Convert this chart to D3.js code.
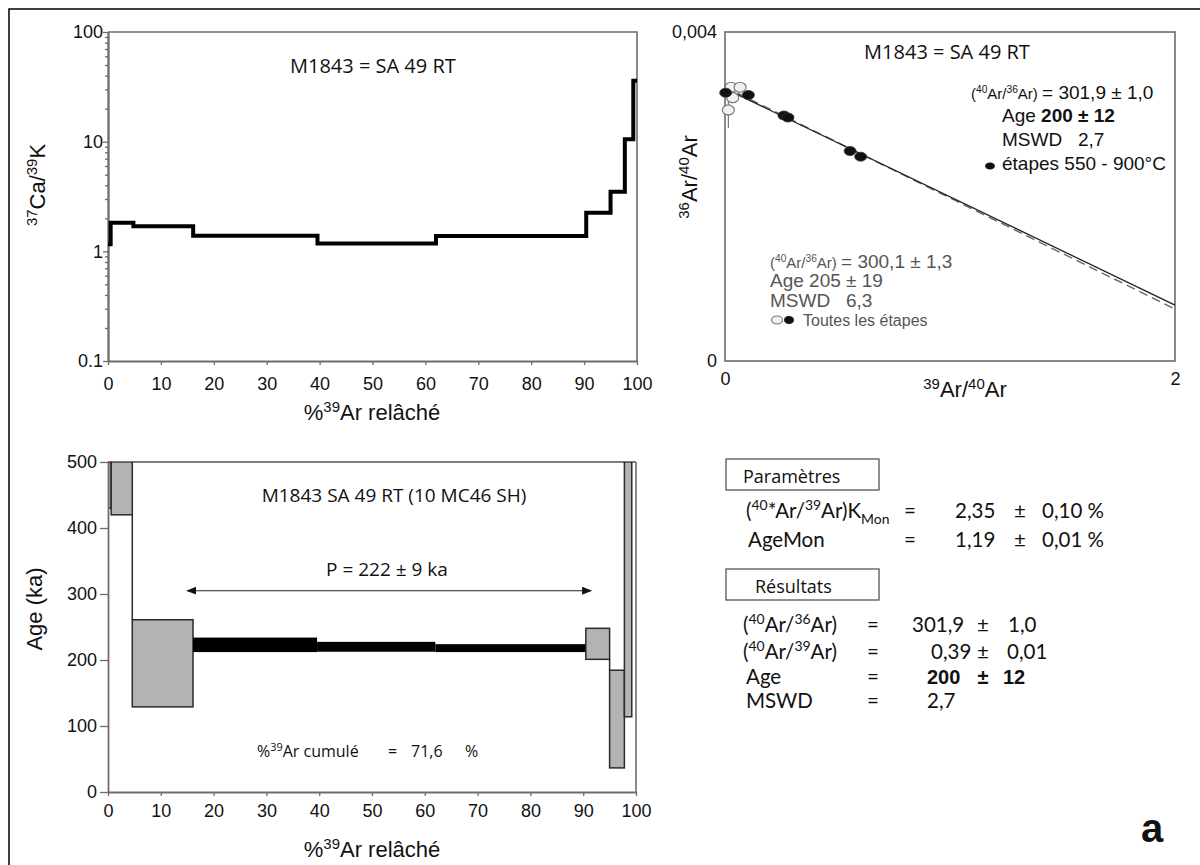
<!DOCTYPE html>
<html>
<head>
<meta charset="utf-8">
<script src="https://cdn.jsdelivr.net/npm/d3@7"></script>
<style>
  body { margin: 0; background: #fff; }
  svg { display: block; }
  text { white-space: pre; }
</style>
</head>
<body>
<div id="fig"></div>
<script>
// --- Ca/K spectrum (step boundaries in %39Ar, value of each step) ---
const caPct = [0, 0.5, 4.8, 16.1, 39.6, 62, 90.4, 95, 97.7, 99.3, 100];
const caVal = [1.16, 1.82, 1.69, 1.39, 1.18, 1.38, 2.25, 3.5, 10.5, 36];
const caTicks = [0.1, 1, 10, 100];
const caTickLabels = ['0.1', '1', '10', '100'];

// --- age spectrum (ka) ---
const agePct = [0, 0.6, 4.6, 16.1, 39.6, 62, 90.5, 95, 97.8, 99.2, 100];
const ageVal = [640, 640, 195, 223, 220, 218, 224.5, 110.5, 400, 800];
const ageErr = [210, 220, 66, 11, 7.5, 6, 23.5, 74, 286, 200];
const plateauSteps = [3, 4, 5];
const plateauSpan = [15, 91.5];
const plateauArrowAge = 305;
const pctTicks = d3.range(0, 101, 10);
const ageTicks = [0, 100, 200, 300, 400, 500];

// --- isochron 36Ar/40Ar vs 39Ar/40Ar ---
const allX = [0.027, 0.067, 0.034, 0.015];
const allY = [0.003328, 0.003328, 0.003201, 0.003052];
const allErrY = [0, 0, 0, 0.00022];
const selX = [0.003, 0.104, 0.262, 0.28, 0.556, 0.603];
const selY = [0.003262, 0.003234, 0.002985, 0.00296, 0.002553, 0.002484];
const fitSel = [1 / 301.9, 0.00068];   // y at x=0 and x=2
const fitAll = [1 / 300.1, 0.000632];

const ARIAL = "'Liberation Sans', Arial, sans-serif";
const MYR = "'Open Sans', 'Noto Sans', sans-serif";
const LATO = "Lato, 'Open Sans', sans-serif";
const GRAY = '#6c6c6c';

const svg = d3.select('#fig').append('svg')
  .attr('width', 1200).attr('height', 865);

svg.append('rect').attr('x', 9).attr('y', 9).attr('width', 1300).attr('height', 1000)
  .attr('fill', 'none').attr('stroke', '#000').attr('stroke-width', 1.5);

// text with super/subscripts
function rich(parent, x, y, parts, o) {
  o = o || {};
  const fs = o.size || 18;
  const t = parent.append('text').attr('x', x).attr('y', y)
    .attr('font-family', o.font || ARIAL).attr('font-size', fs)
    .attr('fill', o.fill || '#111').attr('text-anchor', o.anchor || 'start');
  if (o.rotate) t.attr('transform', `rotate(-90 ${x} ${y})`);
  if (o.weight) t.attr('font-weight', o.weight);
  let cur = 0;
  parts.forEach(p => {
    if (typeof p === 'string') p = { t: p };
    const off = p.sup ? -0.38 * fs : p.sub ? 0.3 * fs : 0;
    const s = t.append('tspan').attr('dy', off - cur).text(p.t);
    cur = off;
    if (p.sup || p.sub) s.attr('font-size', fs * 0.68);
    if (p.size) s.attr('font-size', p.size);
    if (p.b) s.attr('font-weight', 'bold');
  });
  return t;
}

function styleAxis(g, size) {
  g.select('.domain').attr('stroke', GRAY).attr('stroke-width', 1.8);
  g.selectAll('.tick line').attr('stroke', GRAY).attr('stroke-width', 1.3);
  g.selectAll('text').attr('font-family', ARIAL).attr('font-size', size).attr('fill', '#111');
}

// ================= Ca/K =================
const xA = d3.scaleLinear([0, 100], [108, 637]);
const yA = d3.scaleLog([0.1, 100], [361, 32]);
const gA = svg.append('g');

gA.append('path')
  .attr('d', `M${xA(0)},${yA(100)}H${xA(100)}V${yA(0.1)}`)
  .attr('fill', 'none').attr('stroke', GRAY).attr('stroke-width', 1.6);

const minorA = [];
[0.1, 1, 10].forEach(dec => d3.range(2, 10).forEach(m => minorA.push(dec * m)));
gA.append('g').attr('transform', `translate(${xA(0)},0)`)
  .call(d3.axisLeft(yA).tickValues(minorA).tickSize(3).tickSizeOuter(0).tickFormat(''))
  .call(g => styleAxis(g, 17));
gA.append('g').attr('transform', `translate(${xA(0)},0)`)
  .call(d3.axisLeft(yA).tickValues(caTicks).tickFormat((d, i) => caTickLabels[i])
    .tickSize(5).tickSizeOuter(0).tickPadding(0))
  .call(g => styleAxis(g, 18));
gA.append('g').attr('transform', `translate(0,${yA(0.1)})`)
  .call(d3.axisBottom(xA).tickValues(pctTicks).tickSize(4).tickSizeOuter(0).tickPadding(12))
  .call(g => styleAxis(g, 18));

const caPts = caPct.map((p, i) => [p, caVal[Math.min(i, caVal.length - 1)]]);
gA.append('path').datum(caPts)
  .attr('d', d3.line().x(d => xA(d[0])).y(d => yA(d[1])).curve(d3.curveStepAfter))
  .attr('fill', 'none').attr('stroke', '#000').attr('stroke-width', 4)
  .attr('stroke-linejoin', 'miter');

rich(gA, 290, 73, ['M1843 = SA 49 RT'], { font: MYR, size: 20 });
rich(gA, 45, 185, [{ t: '37', sup: true }, 'Ca/', { t: '39', sup: true }, 'K'],
  { size: 22, anchor: 'middle', rotate: true });
rich(gA, 372, 420, ['%', { t: '39', sup: true }, 'Ar relâché'], { size: 22, anchor: 'middle' });

// ================= isochron =================
const xB = d3.scaleLinear([0, 2], [725, 1175]);
const yB = d3.scaleLinear([0, 0.004], [361, 32]);
const gB = svg.append('g');

gB.append('rect').attr('x', xB(0)).attr('y', yB(0.004))
  .attr('width', xB(2) - xB(0)).attr('height', yB(0) - yB(0.004))
  .attr('fill', 'none').attr('stroke', GRAY).attr('stroke-width', 1.6);

gB.append('g').attr('transform', `translate(${xB(0)},0)`)
  .call(d3.axisLeft(yB).tickValues([0, 0.004]).tickFormat(d => d === 0 ? '0' : '0,004')
    .tickSize(0).tickPadding(8))
  .call(g => { styleAxis(g, 18); g.select('.domain').remove(); });
gB.append('g').attr('transform', `translate(0,${yB(0)})`)
  .call(d3.axisBottom(xB).tickValues([0, 2]).tickFormat(d3.format('d'))
    .tickSize(0).tickPadding(11))
  .call(g => { styleAxis(g, 18); g.select('.domain').remove(); });

const fitLine = d3.line().x(d => xB(d[0])).y(d => yB(d[1]));
gB.append('path').datum([[0, fitAll[0]], [2, fitAll[1]]]).attr('d', fitLine)
  .attr('stroke', '#666').attr('stroke-width', 1.4).attr('stroke-dasharray', '9,5').attr('fill', 'none');
gB.append('path').datum([[0, fitSel[0]], [2, fitSel[1]]]).attr('d', fitLine)
  .attr('stroke', '#222').attr('stroke-width', 1.3).attr('fill', 'none');

allX.forEach((x, i) => {
  if (allErrY[i] > 0) {
    gB.append('line').attr('x1', xB(x)).attr('x2', xB(x))
      .attr('y1', yB(allY[i] - allErrY[i])).attr('y2', yB(allY[i] + allErrY[i]))
      .attr('stroke', '#777').attr('stroke-width', 1.2);
  }
});
gB.selectAll('ellipse.all').data(allX).join('ellipse').attr('class', 'all')
  .attr('cx', d => xB(d)).attr('cy', (d, i) => yB(allY[i]))
  .attr('rx', 6).attr('ry', 5)
  .attr('fill', '#f2f2f2').attr('stroke', '#777').attr('stroke-width', 1.2);
gB.selectAll('ellipse.sel').data(selX).join('ellipse').attr('class', 'sel')
  .attr('cx', d => xB(d)).attr('cy', (d, i) => yB(selY[i]))
  .attr('rx', 6).attr('ry', 4.5)
  .attr('fill', '#111').attr('stroke', '#333').attr('stroke-width', 0.8);

rich(gB, 947, 59, ['M1843 = SA 49 RT'], { font: MYR, size: 20, anchor: 'middle' });
rich(gB, 971, 99, ['(', { t: '40', sup: true }, 'Ar/', { t: '36', sup: true }, 'Ar) ',
  { t: '= 301,9 ± 1,0', size: 19 }], { size: 15 });
rich(gB, 1002, 122, ['Age ', { t: '200 ± 12', b: true }], { size: 19 });
rich(gB, 1002, 146, ['MSWD   2,7'], { size: 19 });
gB.append('ellipse').attr('cx', 990).attr('cy', 166).attr('rx', 5).attr('ry', 3.5).attr('fill', '#111');
rich(gB, 1002, 170, ['étapes 550 - 900°C'], { size: 19 });

const GTXT = '#555';
rich(gB, 770, 268, ['(', { t: '40', sup: true }, 'Ar/', { t: '36', sup: true }, 'Ar) ',
  { t: '= 300,1 ± 1,3', size: 19 }], { size: 15, fill: GTXT });
rich(gB, 770, 287, ['Age 205 ± 19'], { size: 19, fill: GTXT });
rich(gB, 770, 307, ['MSWD   6,3'], { size: 19, fill: GTXT });
gB.append('ellipse').attr('cx', 777).attr('cy', 320).attr('rx', 5.5).attr('ry', 4)
  .attr('fill', '#f2f2f2').attr('stroke', '#777').attr('stroke-width', 1.1);
gB.append('ellipse').attr('cx', 789).attr('cy', 320).attr('rx', 5).attr('ry', 4).attr('fill', '#111');
rich(gB, 803, 326, ['Toutes les étapes'], { size: 16, fill: GTXT });

rich(gB, 965, 397, [{ t: '39', sup: true }, 'Ar/', { t: '40', sup: true }, 'Ar'],
  { size: 22, anchor: 'middle' });
rich(gB, 697, 177, [{ t: '36', sup: true }, 'Ar/', { t: '40', sup: true }, 'Ar'],
  { size: 22, anchor: 'middle', rotate: true });

// ================= age spectrum =================
const xC = d3.scaleLinear([0, 100], [108, 636]);
const yC = d3.scaleLinear([0, 500], [792, 462]);
const gC = svg.append('g');

svg.append('defs').append('clipPath').attr('id', 'clipC').append('rect')
  .attr('x', xC(0)).attr('y', yC(500)).attr('width', xC(100) - xC(0)).attr('height', yC(0) - yC(500));
svg.select('defs').append('marker').attr('id', 'arr')
  .attr('viewBox', '0 0 10 8').attr('refX', 9).attr('refY', 4)
  .attr('markerWidth', 10).attr('markerHeight', 8).attr('markerUnits', 'userSpaceOnUse')
  .attr('orient', 'auto-start-reverse')
  .append('path').attr('d', 'M0,0L10,4L0,8Z').attr('fill', '#111');

const steps = ageVal.map((v, i) => ({
  i, x0: agePct[i], x1: agePct[i + 1], lo: v - ageErr[i], hi: v + ageErr[i],
  plateau: plateauSteps.includes(i)
}));
const gSteps = gC.append('g').attr('clip-path', 'url(#clipC)');
gSteps.selectAll('rect').data(steps).join('rect')
  .attr('x', d => xC(d.x0)).attr('width', d => xC(d.x1) - xC(d.x0))
  .attr('y', d => yC(d.hi)).attr('height', d => yC(d.lo) - yC(d.hi))
  .attr('fill', d => d.plateau ? '#000' : '#b3b3b3')
  .attr('stroke', d => d.plateau ? 'none' : '#2a2a2a')
  .attr('stroke-width', 1.5);
const links = [];
for (let k = 0; k < steps.length - 1; k++) {
  const a = steps[k], b = steps[k + 1];
  if (a.lo > b.hi) links.push([a.x1, a.lo, b.hi]);
  else if (a.hi < b.lo) links.push([a.x1, a.hi, b.lo]);
}
gSteps.selectAll('line').data(links).join('line')
  .attr('x1', d => xC(d[0])).attr('x2', d => xC(d[0]))
  .attr('y1', d => yC(d[1])).attr('y2', d => yC(d[2]))
  .attr('stroke', '#2a2a2a').attr('stroke-width', 1.5);

gC.append('line').attr('x1', xC(0)).attr('x2', xC(100)).attr('y1', yC(500)).attr('y2', yC(500))
  .attr('stroke', '#000').attr('stroke-width', 1.2);
gC.append('line').attr('x1', xC(100)).attr('x2', xC(100)).attr('y1', yC(500)).attr('y2', yC(0))
  .attr('stroke', GRAY).attr('stroke-width', 1.6);
gC.append('g').attr('transform', `translate(${xC(0)},0)`)
  .call(d3.axisLeft(yC).tickValues(ageTicks).tickSize(8).tickSizeOuter(0).tickPadding(3))
  .call(g => styleAxis(g, 18));
gC.append('g').attr('transform', `translate(0,${yC(0)})`)
  .call(d3.axisBottom(xC).tickValues(pctTicks).tickSize(4).tickSizeOuter(0).tickPadding(8))
  .call(g => styleAxis(g, 18));

gC.append('line')
  .attr('x1', xC(plateauSpan[0])).attr('x2', xC(plateauSpan[1]))
  .attr('y1', yC(plateauArrowAge)).attr('y2', yC(plateauArrowAge))
  .attr('stroke', '#222').attr('stroke-width', 1.1)
  .attr('marker-start', 'url(#arr)').attr('marker-end', 'url(#arr)');

rich(gC, 394, 502, ['M1843 SA 49 RT (10 MC46 SH)'], { font: MYR, size: 19, anchor: 'middle' });
rich(gC, 387, 576, ['P = 222 ± 9 ka'], { font: MYR, size: 19, anchor: 'middle' });
rich(gC, 257, 757, ['%', { t: '39', sup: true }, 'Ar cumulé'], { font: MYR, size: 16 });
rich(gC, 388, 757, ['='], { font: MYR, size: 16 });
rich(gC, 411, 757, ['71,6'], { font: MYR, size: 16 });
rich(gC, 465, 757, ['%'], { font: MYR, size: 16 });
rich(gC, 42, 609, ['Age (ka)'], { size: 22, anchor: 'middle', rotate: true });
rich(gC, 372, 857, ['%', { t: '39', sup: true }, 'Ar relâché'], { size: 22, anchor: 'middle' });

// ================= parameters / results =================
const gD = svg.append('g');
const boxes = [['Paramètres', 459, 743], ['Résultats', 569, 755]];
boxes.forEach(([label, y, tx]) => {
  gD.append('rect').attr('x', 726).attr('y', y).attr('width', 153).attr('height', 31)
    .attr('fill', '#fff').attr('stroke', '#555').attr('stroke-width', 1.3);
  rich(gD, tx, y + 24, [label], { font: MYR, size: 18 });
});

const FS = 20.5;
rich(gD, 746, 518, ['(', { t: '40', sup: true }, '*Ar/', { t: '39', sup: true }, 'Ar)K',
  { t: 'Mon', sub: true }], { font: LATO, size: FS });
rich(gD, 748, 547, ['AgeMon'], { font: LATO, size: FS });
[[518, '2,35', '0,10 %'], [547, '1,19', '0,01 %']].forEach(([y, v, e]) => {
  rich(gD, 910, y, ['='], { font: LATO, size: FS, anchor: 'middle' });
  rich(gD, 955, y, [v], { font: LATO, size: FS });
  rich(gD, 1020, y, ['±'], { font: LATO, size: FS, anchor: 'middle' });
  rich(gD, 1042, y, [e], { font: LATO, size: FS });
});

rich(gD, 743, 632, ['(', { t: '40', sup: true }, 'Ar/', { t: '36', sup: true }, 'Ar)'], { font: LATO, size: FS });
rich(gD, 743, 659, ['(', { t: '40', sup: true }, 'Ar/', { t: '39', sup: true }, 'Ar)'], { font: LATO, size: FS });
rich(gD, 746, 684, ['Age'], { font: LATO, size: FS });
rich(gD, 746, 708, ['MSWD'], { font: LATO, size: FS });
[[632, '301,9', 912, '1,0', 1008], [659, '0,39', 931, '0,01', 1007]].forEach(([y, v, vx, e, ex]) => {
  rich(gD, 873, y, ['='], { font: LATO, size: FS, anchor: 'middle' });
  rich(gD, vx, y, [v], { font: LATO, size: FS });
  rich(gD, 983, y, ['±'], { font: LATO, size: FS, anchor: 'middle' });
  rich(gD, ex, y, [e], { font: LATO, size: FS });
});
rich(gD, 873, 684, ['='], { font: LATO, size: FS, anchor: 'middle' });
rich(gD, 927, 684, ['200'], { size: 20, weight: 'bold' });
rich(gD, 983, 684, ['±'], { size: 20, weight: 'bold', anchor: 'middle' });
rich(gD, 1003, 684, ['12'], { size: 20, weight: 'bold' });
rich(gD, 873, 708, ['='], { font: LATO, size: FS, anchor: 'middle' });
rich(gD, 927, 708, ['2,7'], { font: LATO, size: FS });

rich(gD, 1141, 842, ['a'], { size: 40, weight: 'bold' });
</script>
</body>
</html>
